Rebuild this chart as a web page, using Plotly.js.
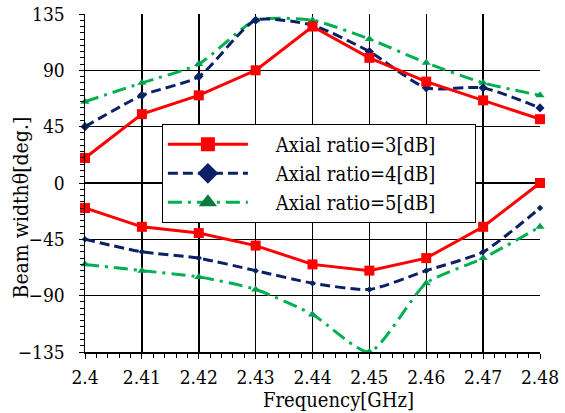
<!DOCTYPE html>
<html><head><meta charset="utf-8">
<script src="https://cdn.plot.ly/plotly-3.0.1.min.js"></script>
<style>html,body{margin:0;padding:0;background:#fff}#c{width:565px;height:413px}</style>
</head><body><div id="c"></div>
<script>
const freq = [2.40, 2.41, 2.42, 2.43, 2.44, 2.45, 2.46, 2.47, 2.48];
const ar3Upper = [20, 55, 70, 90, 125, 100, 81, 66, 51];
const ar3Lower = [-20, -35, -40, -50, -65, -70, -60, -35, 0];
const ar4Upper = [45, 70, 85, 130, 126, 105, 76, 76, 60];
const ar4Lower = [-45, -55, -60, -70, -80, -85, -70, -55, -20];
const ar5Upper = [65, 80, 95, 130, 130, 115, 96, 80, 70];
const ar5Lower = [-65, -70, -75, -85, -105, -135, -80, -60, -35];
const seriesNames = ['Axial ratio=3[dB]', 'Axial ratio=4[dB]', 'Axial ratio=5[dB]'];
const xTicks = [2.40, 2.41, 2.42, 2.43, 2.44, 2.45, 2.46, 2.47, 2.48];
const xTickText = ['2.4', '2.41', '2.42', '2.43', '2.44', '2.45', '2.46', '2.47', '2.48'];
const yTicks = [-135, -90, -45, 0, 45, 90, 135];

const RED = '#FF0000', BLUE = '#0A2165', GREEN = '#00B050', GREEN_M = '#00A050', GREEN_L = '#087A3E';
const FONT = '"DejaVu Serif Condensed", "DejaVu Serif", serif';
const padL = '\u00a0\u00a0\u00a0\u00a0';
const padR = '\u00a0\u00a0\u00a0\u00a0\u00a0\u00a0';

function tr(y, color, dash, sym, size, mcolor, shape) {
  return {x: freq, y: y, mode: 'lines+markers', showlegend: false, cliponaxis: false,
    line: {color: color, width: 3, dash: dash, shape: shape || 'linear', smoothing: 0.6},
    marker: {symbol: sym, size: size, color: mcolor || color}};
}
function leg(name, color, dash, sym, size, mcolor) {
  return {x: [null], y: [null], mode: 'lines+markers', name: padL + name + padR,
    line: {color: color, width: 3, dash: dash}, marker: {symbol: sym, size: size, color: mcolor || color}};
}
const data = [
  tr(ar5Upper, GREEN, '14px,6px,3px,6px', 'triangle-up', 8, GREEN_M, 'spline'),
  tr(ar5Lower, GREEN, '14px,6px,3px,6px', 'triangle-up', 8, GREEN_M, 'spline'),
  tr(ar4Upper, BLUE, '10px,5px', 'diamond', 7, BLUE, 'spline'),
  tr(ar4Lower, BLUE, '10px,5px', 'diamond', 5, BLUE, 'spline'),
  tr(ar3Upper, RED, 'solid', 'square', 10, RED),
  tr(ar3Lower, RED, 'solid', 'square', 10, RED),
  leg(seriesNames[0], RED, 'solid', 'square', 14, RED),
  leg(seriesNames[1], BLUE, '10px,5px', 'diamond', 16, BLUE),
  leg(seriesNames[2], GREEN, '14px,6px,3px,6px', 'triangle-up', 16, GREEN_L)
];
const layout = {
  width: 565, height: 413,
  margin: {l: 85, r: 25, t: 14, b: 61},
  paper_bgcolor: '#fff', plot_bgcolor: '#fff',
  font: {family: FONT, size: 19, color: '#000'},
  showlegend: true,
  legend: {x: 0.169, y: 0.675, xanchor: 'left', yanchor: 'top', bgcolor: '#fff',
    bordercolor: '#000', borderwidth: 1, font: {family: FONT, size: 20, color: '#000'},
    itemwidth: 80, tracegroupgap: 0, traceorder: 'normal'},
  xaxis: {range: [2.4, 2.48], tickvals: xTicks, ticktext: xTickText,
    showgrid: true, gridcolor: '#000', gridwidth: 1.5, zeroline: false,
    showline: true, linecolor: '#000', linewidth: 1.5, ticks: 'outside', ticklen: 5, tickcolor: '#000',
    ticklabelstandoff: 3,
    minor: {dtick: 0.002, ticks: 'outside', ticklen: 4, tickcolor: '#000', showgrid: false},
    tickfont: {family: FONT, size: 19}},
  yaxis: {range: [-135, 135], tickvals: yTicks,
    showgrid: true, gridcolor: '#000', gridwidth: 1.5, zeroline: false,
    showline: true, linecolor: '#000', linewidth: 1.5, ticks: 'outside', ticklen: 5, tickcolor: '#000',
    ticklabelstandoff: 10,
    minor: {dtick: 5, ticks: 'outside', ticklen: 4, tickcolor: '#000', showgrid: false},
    tickfont: {family: FONT, size: 19}},
  annotations: [
    {text: 'Beam widthθ[deg.]', textangle: -90, xref: 'paper', yref: 'paper',
      x: 0, y: 0.4275, xanchor: 'center', yanchor: 'middle', xshift: -64, showarrow: false,
      font: {family: FONT, size: 21, color: '#000'}},
    {text: 'Frequency[GHz]', xref: 'paper', yref: 'paper',
      x: 0.5, y: 0, xanchor: 'center', yanchor: 'middle', xshift: 26, yshift: -48, showarrow: false,
      font: {family: FONT, size: 20, color: '#000'}}
  ]
};
Plotly.newPlot('c', data, layout, {displayModeBar: false, staticPlot: true});
</script></body></html>
